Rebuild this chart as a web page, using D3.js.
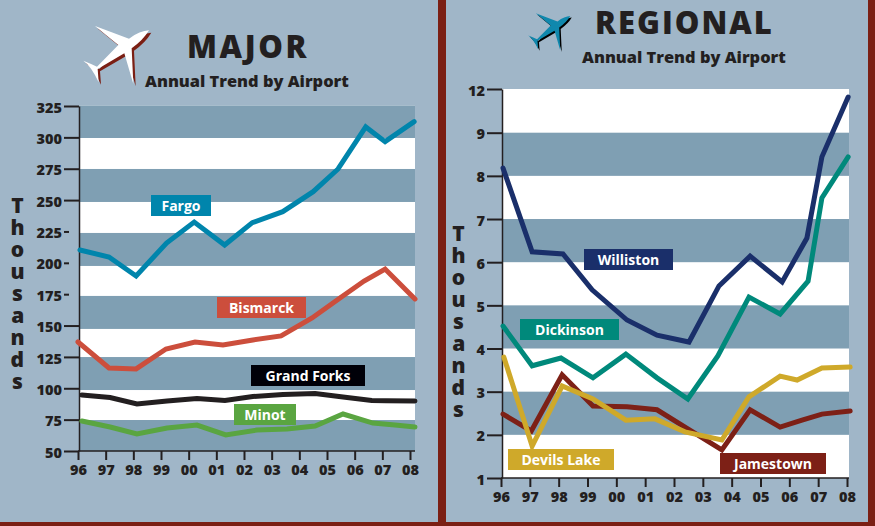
<!DOCTYPE html>
<html lang="en">
<head>
<meta charset="utf-8">
<title>Major and Regional Annual Trend by Airport</title>
<script src="https://d3js.org/d3.v7.min.js"></script>
<style>
    html, body { margin: 0; padding: 0; background: #7b1f14; overflow: hidden; }
    svg { display: block; }
    text { font-family: "Open Sans", "Noto Sans", sans-serif; font-weight: 800; fill: #231f20; }
    .tick text { font-size: 14.5px; }
    .tick line { stroke: #231f20; stroke-width: 2; }
    .domain { stroke: #231f20; stroke-width: 1.5; }
    .line { fill: none; stroke-width: 5; stroke-linejoin: miter; stroke-linecap: round; }
    .tag { fill: #fff; font-size: 14px; font-weight: 700; text-anchor: middle; }
    .side { font-size: 21px; writing-mode: vertical-rl; text-orientation: upright; letter-spacing: -6px; }
</style>
</head>
<body>
<script>
// ---- data ----
const yearTicks = [96, 97, 98, 99, 100, 101, 102, 103, 104, 105, 106, 107, 108];
const yearLabels = ["96", "97", "98", "99", "00", "01", "02", "03", "04", "05", "06", "07", "08"];

// major airports (thousands). points do not sit exactly on the year ticks in the original
const majorTicks = [325, 300, 275, 250, 225, 200, 175, 150, 125, 100, 75, 50];
const majorShortTicks = [225, 200, 175];
const majorBands = [325.4, 299.5, 274.8, 248.5, 223.8, 197.5, 173.6, 147.3, 124.9, 98.6, 74.7, 50];

const fargoYears = [96.07, 97.12, 98.1, 99.2, 100.2, 101.3, 102.3, 103.4, 104.5, 105.4, 106.4, 107.1, 108.15];
const fargoValues = [210.2, 204.6, 189.5, 215.8, 232.5, 214.2, 232, 240.8, 256.7, 274.8, 308.3, 296.6, 312.5];
const bismarckYears = [96, 97.12, 98.1, 99.18, 100.23, 101.24, 102.32, 103.34, 104.46, 105.47, 106.34, 107.1, 108.18];
const bismarckValues = [136.9, 116.2, 115.4, 131.3, 136.9, 134.5, 138.5, 141.7, 156, 172, 185.5, 195, 171.2];
const grandForksYears = [96.14, 97.16, 98.13, 99.22, 100.3, 101.31, 102.32, 103.41, 104.57, 105.58, 106.62, 107.13, 108.18];
const grandForksValues = [94.6, 92.6, 87.5, 89.9, 91.9, 90.3, 93.4, 95, 95.8, 93, 90.3, 90.1, 89.9];
const minotYears = [96.14, 97.16, 98.13, 99.22, 100.3, 101.34, 102.46, 103.55, 104.57, 105.58, 106.66, 107.46, 108.18];
const minotValues = [73.9, 69.1, 63.6, 68.3, 70.7, 62.8, 66.7, 67.5, 69.9, 79.5, 72.3, 70.7, 69.1];

// regional airports (thousands). axis jumps from 9 straight to 12
const regionalTicks = [12, 9, 8, 7, 6, 5, 4, 3, 2, 1];
const regionalBands = [12, 9, 8, 7, 6, 5, 4, 3, 2, 1];

const willistonYears = [96.07, 97.08, 98.15, 99.16, 100.37, 101.41, 102.52, 103.56, 104.64, 105.75, 106.61, 107.13, 108.04];
const willistonValues = [8.18, 6.24, 6.19, 5.36, 4.66, 4.31, 4.15, 5.45, 6.14, 5.54, 6.56, 8.44, 11.45];
const dickinsonYears = [96.07, 97.08, 98.08, 99.19, 100.33, 101.41, 102.48, 103.52, 104.6, 105.68, 106.65, 107.13, 108.04];
const dickinsonValues = [4.52, 3.6, 3.78, 3.32, 3.87, 3.32, 2.83, 3.83, 5.19, 4.8, 5.56, 7.49, 8.44];
const devilsLakeYears = [96.1, 97.08, 98.12, 99.19, 100.33, 101.34, 102.38, 103.66, 104.6, 105.68, 106.27, 107.13, 108.11];
const devilsLakeValues = [3.8, 1.74, 3.13, 2.83, 2.34, 2.37, 2.07, 1.88, 2.88, 3.36, 3.27, 3.55, 3.57];
const jamestownYears = [96.07, 97.05, 98.12, 99.19, 100.37, 101.41, 102.48, 103.66, 104.64, 105.68, 106.44, 107.13, 108.11];
const jamestownValues = [2.48, 2.09, 3.39, 2.67, 2.65, 2.58, 2.14, 1.65, 2.58, 2.18, 2.34, 2.48, 2.55];

// ---- page ----
const width = 875;
const height = 526;
const red = "#7b1f14";
const panelBlue = "#a0b6c8";
const bandBlue = "#7f9fb3";

const svg = d3.select("body").append("svg")
    .attr("width", width)
    .attr("height", height);

svg.append("rect").attr("width", width).attr("height", height).attr("fill", red);
svg.append("rect").attr("x", 0).attr("y", 0).attr("width", 438).attr("height", 522).attr("fill", panelBlue);
svg.append("rect").attr("x", 446).attr("y", 0).attr("width", 422).attr("height", 522).attr("fill", panelBlue);

// plane outline, drawn once and scaled for each panel
const planePath = "M222,46 Q195,47 162,71 L60,33 Q95,62 130,90 L66,155 Q45,145 25,137 " +
    "Q50,155 71,202 L68,162 L148,115 L175,207 L170,100 Q205,75 222,46 Z";

function drawPlane(tx, ty, k, body, shadow) {
    const g = svg.append("g").attr("transform", `translate(${tx},${ty}) scale(${k})`);
    g.append("path").attr("d", planePath).attr("fill", shadow).attr("transform", "translate(7,7)");
    g.append("path").attr("d", planePath).attr("fill", body);
}

function drawPanel(p) {
    const x = d3.scaleLinear().domain([96, 108]).range(p.xRange);
    const y = d3.scaleLinear().domain(p.yDomain).range(p.yRange);

    // white plot with the darker stripes on top
    svg.append("rect")
        .attr("x", p.plotLeft).attr("y", y(p.bands[0]))
        .attr("width", p.plotRight - p.plotLeft)
        .attr("height", y(p.bands[p.bands.length - 1]) - y(p.bands[0]))
        .attr("fill", "#fff");

    d3.pairs(p.bands).forEach(function(b, i) {
        if ((i % 2 === 0) === p.firstBandDark) {
            svg.append("rect")
                .attr("x", p.plotLeft).attr("y", y(b[0]))
                .attr("width", p.plotRight - p.plotLeft)
                .attr("height", y(b[1]) - y(b[0]))
                .attr("fill", bandBlue);
        }
    });

    // axes
    const leftAxis = d3.axisLeft(y).tickValues(p.yTicks).tickSize(15).tickPadding(2).tickSizeOuter(0);
    const yAxis = svg.append("g")
        .attr("transform", `translate(${p.plotLeft},0)`)
        .call(leftAxis);
    yAxis.selectAll(".tick line")
        .attr("x1", d => p.shortTicks.includes(d) ? -10 : 0);
    yAxis.selectAll(".tick text").attr("dy", "0.42em");

    const bottomAxis = d3.axisBottom(x)
        .tickValues(yearTicks)
        .tickFormat((d, i) => yearLabels[i])
        .tickSize(9).tickPadding(5).tickSizeOuter(0);
    const xAxis = svg.append("g")
        .attr("transform", `translate(0,${y(p.yDomain[0])})`)
        .call(bottomAxis);
    xAxis.select(".domain").attr("d", `M${p.xRange[0]},0H${p.plotRight}`);

    // series
    p.series.forEach(function(s) {
        const pts = s.years.map((yr, i) => [x(yr), y(s.values[i])]);
        svg.append("path")
            .datum(pts)
            .attr("class", "line")
            .attr("stroke", s.color)
            .attr("d", d3.line());
    });

    // name tags
    p.series.forEach(function(s) {
        svg.append("rect")
            .attr("x", s.tag[0]).attr("y", s.tag[1])
            .attr("width", s.tag[2] - s.tag[0]).attr("height", s.tag[3] - s.tag[1])
            .attr("fill", s.tagColor || s.color);
        svg.append("text")
            .attr("class", "tag")
            .attr("x", (s.tag[0] + s.tag[2]) / 2)
            .attr("y", (s.tag[1] + s.tag[3]) / 2 + 5)
            .text(s.name);
    });

    // vertical "Thousands", upright letters stacked in one text
    svg.append("text")
        .attr("class", "side")
        .attr("x", p.sideX)
        .attr("y", p.sideY)
        .text("Thousands");

    // titles
    svg.append("text")
        .attr("x", p.titleX).attr("y", p.titleY)
        .attr("font-size", 31)
        .attr("letter-spacing", p.titleSpacing)
        .text(p.title);
    svg.append("text")
        .attr("x", p.subX).attr("y", p.subY)
        .attr("font-size", 16.4)
        .text("Annual Trend by Airport");
}

drawPlane(75, 15, 1 / 3, "#fff", red);
drawPlane(523, 6.3, 0.213, "#1088ad", "#000");

drawPanel({
    title: "MAJOR", titleX: 187, titleY: 58, titleSpacing: 2.6,
    subX: 145, subY: 87,
    xRange: [78, 410], plotLeft: 79, plotRight: 415,
    yDomain: [50, 325], yRange: [451, 106],
    yTicks: majorTicks, shortTicks: majorShortTicks,
    bands: majorBands, firstBandDark: true,
    sideX: 17, sideY: 191,
    series: [
        { name: "Fargo", years: fargoYears, values: fargoValues, color: "#0085ac", tag: [151, 195, 211, 216] },
        { name: "Bismarck", years: bismarckYears, values: bismarckValues, color: "#cc4e3c", tag: [217, 297, 306, 318] },
        { name: "Grand Forks", years: grandForksYears, values: grandForksValues, color: "#231f20", tagColor: "#000008", tag: [251, 365, 365, 386] },
        { name: "Minot", years: minotYears, values: minotValues, color: "#5aa541", tag: [234, 404, 296, 425] }
    ]
});

drawPanel({
    title: "REGIONAL", titleX: 595, titleY: 34, titleSpacing: 2,
    subX: 582, subY: 63,
    xRange: [501, 847], plotLeft: 502, plotRight: 849,
    yDomain: [1, 9, 12], yRange: [478, 132.7, 89],
    yTicks: regionalTicks, shortTicks: [],
    bands: regionalBands, firstBandDark: false,
    sideX: 458, sideY: 219,
    series: [
        { name: "Williston", years: willistonYears, values: willistonValues, color: "#1a2f6a", tag: [584, 249, 673, 270] },
        { name: "Dickinson", years: dickinsonYears, values: dickinsonValues, color: "#00897b", tag: [520, 319, 619, 340] },
        { name: "Jamestown", years: jamestownYears, values: jamestownValues, color: "#7d2016", tag: [720, 453, 826, 474] },
        { name: "Devils Lake", years: devilsLakeYears, values: devilsLakeValues, color: "#cfa92a", tag: [508, 449, 614, 470] }
    ]
});
</script>
</body>
</html>
